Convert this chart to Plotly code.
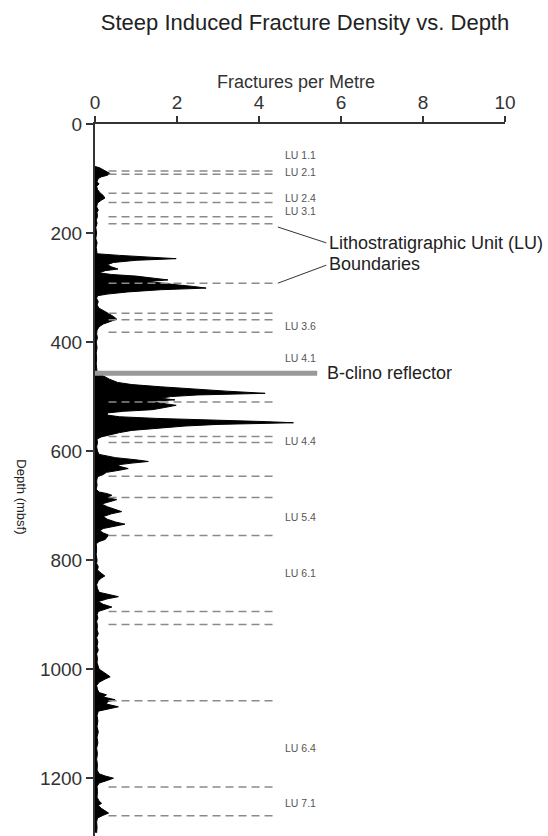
import plotly.graph_objects as go

# ---------------- data ----------------
depth_m = [78, 80, 84, 88, 91, 94, 97, 100, 106, 110, 114, 120, 126, 131, 136, 140, 145, 152, 158, 162,
           170, 176, 182, 190, 200, 210, 218, 226, 234, 238, 241, 244, 247, 250, 254, 258, 262, 266, 269, 273,
           276, 279, 283, 286, 289, 292, 295, 298, 301, 304, 308, 312, 315, 320, 326, 332, 338, 342, 348, 353,
           358, 362, 367, 372, 378, 385, 392, 400, 410, 420, 430, 440, 450, 455, 458, 462, 468, 474, 478, 482,
           486, 490, 494, 497, 500, 503, 506, 509, 512, 516, 520, 524, 527, 530, 534, 537, 540, 543, 546, 548,
           551, 554, 558, 562, 566, 570, 574, 578, 585, 592, 600, 606, 612, 616, 619, 622, 625, 628, 632, 635,
           639, 643, 647, 655, 663, 670, 675, 678, 681, 685, 689, 693, 697, 702, 707, 711, 715, 720, 725, 730,
           734, 738, 742, 746, 750, 754, 758, 762, 766, 770, 780, 790, 800, 806, 812, 818, 824, 829, 833, 838,
           845, 852, 859, 863, 867, 871, 876, 881, 886, 890, 894, 900, 906, 912, 920, 928, 935, 942, 950, 958,
           965, 972, 980, 988, 995, 1000, 1005, 1010, 1014, 1018, 1024, 1030, 1037, 1043, 1047, 1051, 1056, 1060, 1064, 1069,
           1073, 1077, 1085, 1095, 1105, 1115, 1125, 1135, 1145, 1155, 1165, 1175, 1185, 1192, 1196, 1200, 1204, 1209, 1215, 1225,
           1235, 1242, 1246, 1250, 1255, 1260, 1264, 1268, 1273, 1280, 1290, 1300]
fractures_per_m = [0.0, 0.1, 0.2, 0.3, 0.37, 0.3, 0.15, 0.08, 0.05, 0.1, 0.04, 0.06, 0.12, 0.2, 0.24, 0.15, 0.06, 0.04, 0.08, 0.05,
                   0.06, 0.03, 0.05, 0.02, 0.04, 0.02, 0.05, 0.03, 0.04, 0.05, 0.6, 1.3, 1.98, 1.0, 0.45, 0.3, 0.4, 0.56, 0.25, 0.1,
                   0.4, 1.0, 1.5, 1.78, 1.3, 1.6, 2.0, 2.4, 2.71, 1.6, 0.8, 0.3, 0.06, 0.04, 0.08, 0.05, 0.1, 0.2, 0.35, 0.45,
                   0.53, 0.4, 0.2, 0.1, 0.05, 0.04, 0.06, 0.03, 0.05, 0.03, 0.04, 0.03, 0.04, 0.05, 0.1, 0.2, 0.35, 0.55, 0.9, 1.6,
                   2.3, 3.2, 4.15, 2.5, 1.85, 1.6, 1.95, 1.3, 1.6, 1.98, 1.7, 1.4, 0.7, 0.3, 0.3, 0.6, 1.5, 3.1, 4.2, 4.84,
                   3.0, 2.2, 1.45, 0.9, 0.6, 0.35, 0.15, 0.05, 0.06, 0.04, 0.06, 0.1, 0.5, 1.0, 1.3, 0.9, 0.57, 0.6, 0.81, 0.6,
                   0.28, 0.2, 0.06, 0.04, 0.05, 0.03, 0.1, 0.3, 0.41, 0.3, 0.53, 0.35, 0.16, 0.3, 0.5, 0.65, 0.4, 0.2, 0.3, 0.5,
                   0.73, 0.45, 0.2, 0.12, 0.2, 0.33, 0.3, 0.25, 0.1, 0.03, 0.04, 0.03, 0.05, 0.04, 0.08, 0.06, 0.15, 0.24, 0.15, 0.08,
                   0.04, 0.06, 0.1, 0.3, 0.57, 0.3, 0.08, 0.2, 0.41, 0.25, 0.08, 0.05, 0.07, 0.04, 0.06, 0.05, 0.08, 0.04, 0.07, 0.05,
                   0.08, 0.04, 0.06, 0.05, 0.08, 0.1, 0.2, 0.3, 0.37, 0.25, 0.1, 0.04, 0.06, 0.1, 0.28, 0.2, 0.49, 0.3, 0.28, 0.57,
                   0.3, 0.08, 0.05, 0.07, 0.05, 0.08, 0.05, 0.07, 0.04, 0.06, 0.04, 0.06, 0.05, 0.1, 0.25, 0.45, 0.3, 0.1, 0.05, 0.06,
                   0.05, 0.1, 0.16, 0.08, 0.15, 0.25, 0.33, 0.2, 0.06, 0.04, 0.05, 0.04]

boundary_depths = [86, 92, 127, 144, 170, 183, 292, 347, 359, 382, 510, 573, 584, 646, 685, 755, 894, 918, 1058, 1216, 1269]

lu_labels = ["LU 1.1", "LU 2.1", "LU 2.4", "LU 3.1", "LU 3.6", "LU 4.1", "LU 4.4", "LU 5.4", "LU 6.1", "LU 6.4", "LU 7.1"]
lu_depths = [57, 88, 136, 159, 370, 430, 581, 720, 824, 1145, 1246]

reflector_depth = 457
x_ticks = [0, 2, 4, 6, 8, 10]
y_ticks = [0, 200, 400, 600, 800, 1000, 1200]

# ---------------- figure ----------------
FONT = "Liberation Sans, Arial, Helvetica, sans-serif"
fig = go.Figure()

fig.add_trace(go.Scatter(
    x=fractures_per_m, y=depth_m, mode="lines",
    line=dict(color="black", width=1), fill="tozerox", fillcolor="black",
    hoverinfo="skip", showlegend=False))

shapes = []
for d in boundary_depths:
    shapes.append(dict(type="line", xref="x", yref="y", x0=0.33, x1=4.44, y0=d, y1=d,
                       line=dict(color="#8a8a8a", width=1.5, dash="8px,5px")))
# B-clino reflector
shapes.append(dict(type="line", xref="x", yref="y", x0=0, x1=5.42, y0=reflector_depth, y1=reflector_depth,
                   line=dict(color="#999999", width=5)))
# leader lines
shapes.append(dict(type="line", xref="x", yref="y", x0=4.46, y0=189, x1=5.64, y1=218,
                   line=dict(color="#333333", width=1)))
shapes.append(dict(type="line", xref="x", yref="y", x0=4.46, y0=292, x1=5.64, y1=259,
                   line=dict(color="#333333", width=1)))

annotations = []
for lab, d in zip(lu_labels, lu_depths):
    annotations.append(dict(x=4.59, y=d, xref="x", yref="y", text=lab, showarrow=False,
                            xanchor="left", yanchor="middle",
                            font=dict(family=FONT, size=10.5, color="#555555")))
annotations.append(dict(x=5.67, y=219, xref="x", yref="y", text="Lithostratigraphic Unit (LU)",
                        showarrow=False, xanchor="left", yanchor="middle",
                        font=dict(family=FONT, size=18, color="#222222")))
annotations.append(dict(x=5.67, y=256, xref="x", yref="y", text="Boundaries",
                        showarrow=False, xanchor="left", yanchor="middle",
                        font=dict(family=FONT, size=18, color="#222222")))
annotations.append(dict(x=5.6, y=reflector_depth, xref="x", yref="y", text="B-clino reflector",
                        showarrow=False, xanchor="left", yanchor="middle",
                        font=dict(family=FONT, size=18, color="#222222")))
annotations.append(dict(x=-0.178, y=683, xref="paper", yref="y", text="Depth (mbsf)",
                        showarrow=False, textangle=90, xanchor="center", yanchor="middle",
                        font=dict(family=FONT, size=13, color="#222222")))
annotations.append(dict(x=4.9, y=1 + (124 - 82) / 712, xref="x", yref="paper", text="Fractures per Metre",
                        showarrow=False, xanchor="center", yanchor="middle",
                        font=dict(family=FONT, size=18, color="#333333")))

fig.update_layout(
    width=548, height=836,
    margin=dict(l=95, r=43, t=124, b=0),
    paper_bgcolor="white", plot_bgcolor="white",
    title=dict(text="Steep Induced Fracture Density vs. Depth", x=305 / 548, xref="container",
               y=1 - 22 / 836, yref="container", xanchor="center", yanchor="middle",
               font=dict(family=FONT, size=22, color="#222222")),
    xaxis=dict(range=[0, 10], side="top", tickvals=x_ticks, ticks="outside", ticklen=6,
               tickcolor="#333333", tickwidth=1.5, showline=True, linecolor="#333333", linewidth=1.5,
               showgrid=False, zeroline=False, automargin=False,
               tickfont=dict(family=FONT, size=19, color="#333333")),
    yaxis=dict(range=[1306, 0], tickvals=y_ticks, ticks="outside", ticklen=7,
               tickcolor="#333333", tickwidth=1.5, showline=True, linecolor="#333333", linewidth=2,
               showgrid=False, zeroline=False, automargin=False,
               tickfont=dict(family=FONT, size=19, color="#333333")),
    shapes=shapes, annotations=annotations,
)

fig.write_html("out.html", config={"displayModeBar": False},
               post_script="document.body.style.margin='0px';")
